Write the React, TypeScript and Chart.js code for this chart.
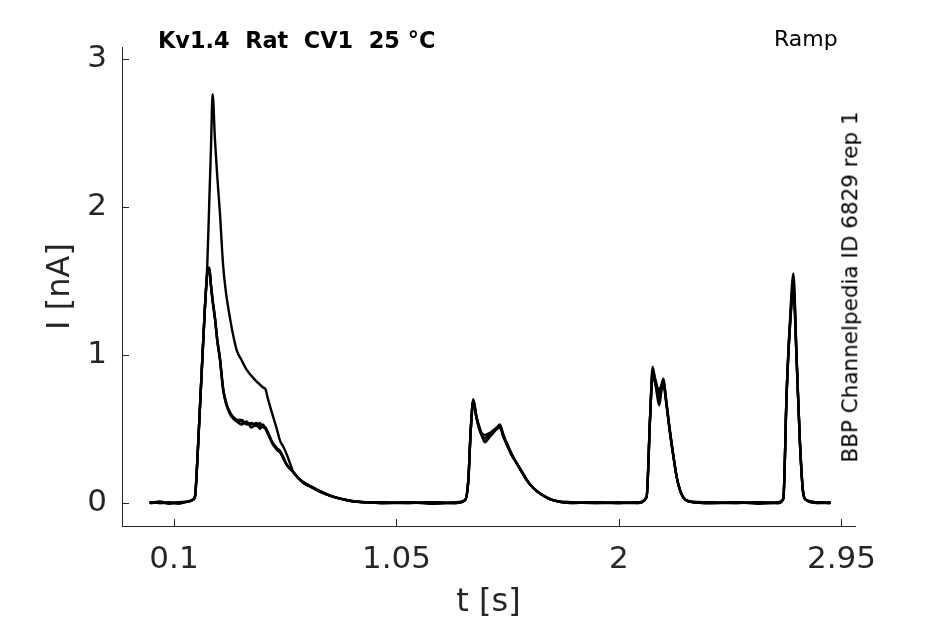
import { useEffect, useRef } from "react";
import { Chart, registerables } from "chart.js";

Chart.register(...registerables);

// sample times [s], shared by all sweeps
const TIME = [
  0, 0.04, 0.08, 0.12, 0.16, 0.18, 0.19, 0.197, 0.204, 0.218,
  0.232, 0.242, 0.251, 0.258, 0.265, 0.275, 0.285, 0.296, 0.31, 0.322,
  0.339, 0.353, 0.368, 0.39, 0.41, 0.43, 0.453, 0.467, 0.48, 0.49,
  0.5, 0.52, 0.539, 0.553, 0.567, 0.581, 0.595, 0.609, 0.63, 0.652,
  0.675, 0.695, 0.723, 0.766, 0.81, 0.866, 0.92, 1.0, 1.1, 1.2,
  1.3, 1.343, 1.357, 1.367, 1.378, 1.392, 1.407, 1.428, 1.445, 1.462,
  1.478, 1.492, 1.505, 1.52, 1.54, 1.563, 1.585, 1.606, 1.635, 1.663,
  1.718, 1.8, 1.9, 2.0, 2.08, 2.118, 2.133, 2.144, 2.158, 2.172,
  2.18, 2.189, 2.203, 2.214, 2.225, 2.236, 2.246, 2.26, 2.274, 2.3,
  2.4, 2.5, 2.6, 2.68, 2.702, 2.716, 2.73, 2.745, 2.759, 2.773,
  2.787, 2.8, 2.85, 2.9,
];

// current [nA], one array per sweep
const SWEEP_A = [
  0.0, 0.01, -0.005, 0.005, 0.01, 0.02, 0.04, 0.2, 0.42, 0.87,
  1.32, 1.6, 2.05, 2.4, 2.76, 2.45, 2.2, 1.96, 1.6, 1.42,
  1.25, 1.13, 1.03, 0.96, 0.9, 0.86, 0.82, 0.8, 0.78, 0.77,
  0.71, 0.6, 0.5, 0.42, 0.38, 0.33, 0.27, 0.21, 0.17, 0.14,
  0.12, 0.105, 0.08, 0.05, 0.03, 0.012, 0.005, 0.0, 0.005, -0.005,
  0.0, 0.02, 0.16, 0.49, 0.7, 0.58, 0.49, 0.41, 0.44, 0.47,
  0.5, 0.52, 0.46, 0.4, 0.33, 0.27, 0.21, 0.155, 0.1, 0.065,
  0.02, 0.005, 0.0, 0.005, 0.0, 0.04, 0.58, 0.92, 0.78, 0.66,
  0.74, 0.84, 0.67, 0.53, 0.4, 0.28, 0.18, 0.09, 0.04, 0.01,
  0.0, 0.005, -0.005, 0.0, 0.03, 0.74, 1.22, 1.55, 0.96, 0.4,
  0.065, 0.02, 0.0, 0.005,
];
const SWEEP_B = [
  0.005, 0.0, 0.005, -0.005, 0.01, 0.02, 0.05, 0.21, 0.43, 0.88,
  1.32, 1.55, 1.59, 1.47, 1.37, 1.25, 1.1, 0.98, 0.77, 0.68,
  0.61, 0.58, 0.56, 0.55, 0.54, 0.53, 0.54, 0.52, 0.52, 0.51,
  0.48, 0.41, 0.37, 0.35, 0.3, 0.26, 0.235, 0.21, 0.17, 0.14,
  0.12, 0.105, 0.08, 0.05, 0.03, 0.012, 0.005, 0.005, 0.0, 0.005,
  0.0, 0.02, 0.16, 0.5, 0.69, 0.57, 0.48, 0.44, 0.46, 0.48,
  0.5, 0.51, 0.45, 0.4, 0.33, 0.27, 0.21, 0.155, 0.1, 0.065,
  0.02, 0.0, 0.005, 0.0, 0.005, 0.04, 0.57, 0.88, 0.82, 0.74,
  0.78, 0.82, 0.67, 0.53, 0.4, 0.28, 0.18, 0.09, 0.04, 0.01,
  0.005, 0.0, 0.005, 0.0, 0.03, 0.73, 1.18, 1.42, 0.95, 0.4,
  0.06, 0.02, 0.005, 0.0,
];
const SWEEP_C = [
  0.0, 0.005, 0.0, 0.005, 0.01, 0.02, 0.045, 0.2, 0.42, 0.87,
  1.31, 1.54, 1.58, 1.46, 1.36, 1.24, 1.09, 0.97, 0.76, 0.67,
  0.6, 0.57, 0.55, 0.53, 0.55, 0.51, 0.53, 0.5, 0.53, 0.5,
  0.47, 0.4, 0.36, 0.34, 0.3, 0.26, 0.23, 0.21, 0.17, 0.135,
  0.115, 0.1, 0.075, 0.05, 0.03, 0.01, 0.005, 0.0, 0.005, 0.0,
  0.005, 0.02, 0.15, 0.48, 0.68, 0.57, 0.49, 0.46, 0.47, 0.49,
  0.51, 0.53, 0.46, 0.41, 0.34, 0.27, 0.215, 0.16, 0.1, 0.065,
  0.02, 0.005, 0.0, 0.0, 0.005, 0.04, 0.58, 0.9, 0.8, 0.7,
  0.76, 0.8, 0.66, 0.52, 0.39, 0.28, 0.18, 0.09, 0.04, 0.01,
  0.0, 0.005, 0.0, 0.005, 0.03, 0.74, 1.2, 1.48, 0.97, 0.41,
  0.07, 0.02, 0.0, 0.0,
];
const SWEEP_D = [
  0.005, 0.0, 0.0, 0.005, 0.01, 0.025, 0.05, 0.21, 0.43, 0.88,
  1.32, 1.55, 1.58, 1.47, 1.37, 1.25, 1.1, 0.98, 0.77, 0.68,
  0.61, 0.58, 0.56, 0.56, 0.53, 0.54, 0.52, 0.54, 0.51, 0.51,
  0.48, 0.41, 0.37, 0.35, 0.31, 0.26, 0.235, 0.21, 0.17, 0.14,
  0.12, 0.1, 0.08, 0.05, 0.03, 0.012, 0.005, 0.0, 0.0, 0.005,
  0.0, 0.02, 0.16, 0.49, 0.69, 0.58, 0.5, 0.42, 0.45, 0.48,
  0.5, 0.52, 0.47, 0.4, 0.33, 0.27, 0.21, 0.155, 0.1, 0.065,
  0.02, 0.0, 0.005, 0.0, 0.0, 0.04, 0.58, 0.86, 0.79, 0.77,
  0.79, 0.83, 0.68, 0.53, 0.4, 0.28, 0.18, 0.09, 0.04, 0.01,
  0.0, 0.0, 0.005, 0.0, 0.03, 0.74, 1.19, 1.45, 0.96, 0.4,
  0.065, 0.02, 0.005, 0.0,
];

const SWEEPS = [SWEEP_A, SWEEP_B, SWEEP_C, SWEEP_D];

const X_TICKS = [0.1, 1.05, 2, 2.95];
const Y_TICKS = [0, 1, 2, 3];

const AXIS_COLOR = "#262626";
const FONT = "'DejaVu Sans', sans-serif";

// matlab-style ticks pointing into the plot
const inwardTicks = {
  id: "inwardTicks",
  afterDraw(chart: any) {
    const { ctx, chartArea, scales } = chart;
    ctx.save();
    ctx.strokeStyle = AXIS_COLOR;
    ctx.lineWidth = 1;
    ctx.beginPath();
    scales.x.ticks.forEach((t: any) => {
      const px = Math.round(scales.x.getPixelForValue(t.value)) + 0.5;
      ctx.moveTo(px, chartArea.bottom);
      ctx.lineTo(px, chartArea.bottom - 7);
    });
    scales.y.ticks.forEach((t: any) => {
      const py = Math.round(scales.y.getPixelForValue(t.value)) + 0.5;
      ctx.moveTo(chartArea.left, py);
      ctx.lineTo(chartArea.left + 7, py);
    });
    ctx.stroke();
    ctx.restore();
  },
};

export default function App() {
  const canvasRef = useRef<HTMLCanvasElement | null>(null);

  useEffect(() => {
    if (!canvasRef.current) {
      return;
    }

    const chart = new Chart(canvasRef.current, {
      type: "line",
      data: {
        datasets: SWEEPS.map((sweep, i) => ({
          label: `sweep ${i + 1}`,
          data: TIME.map((t, j) => ({ x: t, y: sweep[j] })),
          borderColor: "#000",
          borderWidth: 2.4,
          borderJoinStyle: "round" as const,
          borderCapStyle: "round" as const,
          pointRadius: 0,
          cubicInterpolationMode: "monotone" as const,
          fill: false,
        })),
      },
      options: {
        responsive: false,
        animation: false,
        layout: { padding: { top: 47, right: 90, left: 0, bottom: 0 } },
        plugins: {
          legend: { display: false },
          tooltip: { enabled: false },
        },
        scales: {
          x: {
            type: "linear",
            min: -0.122,
            max: 3.008,
            afterBuildTicks: (scale: any) => {
              scale.ticks = X_TICKS.map((v) => ({ value: v }));
            },
            afterFit: (scale: any) => {
              scale.height = 98;
            },
            grid: { display: true, drawOnChartArea: false, drawTicks: false },
            border: { display: true, color: AXIS_COLOR, width: 1 },
            ticks: {
              color: AXIS_COLOR,
              font: { family: FONT, size: 31 },
              padding: 15,
              maxRotation: 0,
              autoSkip: false,
              callback: (v: any) => String(v),
            },
            title: {
              display: true,
              text: "t [s]",
              color: AXIS_COLOR,
              font: { family: FONT, size: 32 },
              padding: { top: 0, bottom: 2 },
            },
          },
          y: {
            type: "linear",
            min: -0.155,
            max: 3.078,
            afterBuildTicks: (scale: any) => {
              scale.ticks = Y_TICKS.map((v) => ({ value: v }));
            },
            afterFit: (scale: any) => {
              scale.width = 122;
            },
            grid: { display: true, drawOnChartArea: false, drawTicks: false },
            border: { display: true, color: AXIS_COLOR, width: 1 },
            ticks: {
              color: AXIS_COLOR,
              font: { family: FONT, size: 31 },
              padding: 15,
              callback: (v: any) => String(v),
            },
            title: {
              display: true,
              text: "I [nA]",
              color: AXIS_COLOR,
              font: { family: FONT, size: 32 },
              padding: { top: 41, bottom: 0 },
            },
          },
        },
      },
      plugins: [inwardTicks],
    });

    return () => chart.destroy();
  }, []);

  return (
    <div
      style={{
        position: "absolute",
        left: 0,
        top: 0,
        width: 945,
        height: 624,
        background: "#fff",
        fontFamily: FONT,
        color: "#000",
      }}
    >
      <canvas ref={canvasRef} width={945} height={624} style={{ width: 945, height: 624 }} />
      <div
        style={{
          position: "absolute",
          left: 158,
          top: 29,
          fontSize: 22.4,
          fontWeight: "bold",
          lineHeight: 1,
          whiteSpace: "pre",
        }}
      >
        {"Kv1.4  Rat  CV1  25 °C"}
      </div>
      <div
        style={{
          position: "absolute",
          left: 774,
          top: 28,
          fontSize: 22,
          lineHeight: 1,
          whiteSpace: "pre",
        }}
      >
        Ramp
      </div>
      <div
        style={{
          position: "absolute",
          left: 850,
          top: 287,
          fontSize: 21.5,
          lineHeight: 1,
          whiteSpace: "pre",
          transform: "translate(-50%, -50%) rotate(-90deg)",
        }}
      >
        BBP Channelpedia ID 6829 rep 1
      </div>
    </div>
  );
}
